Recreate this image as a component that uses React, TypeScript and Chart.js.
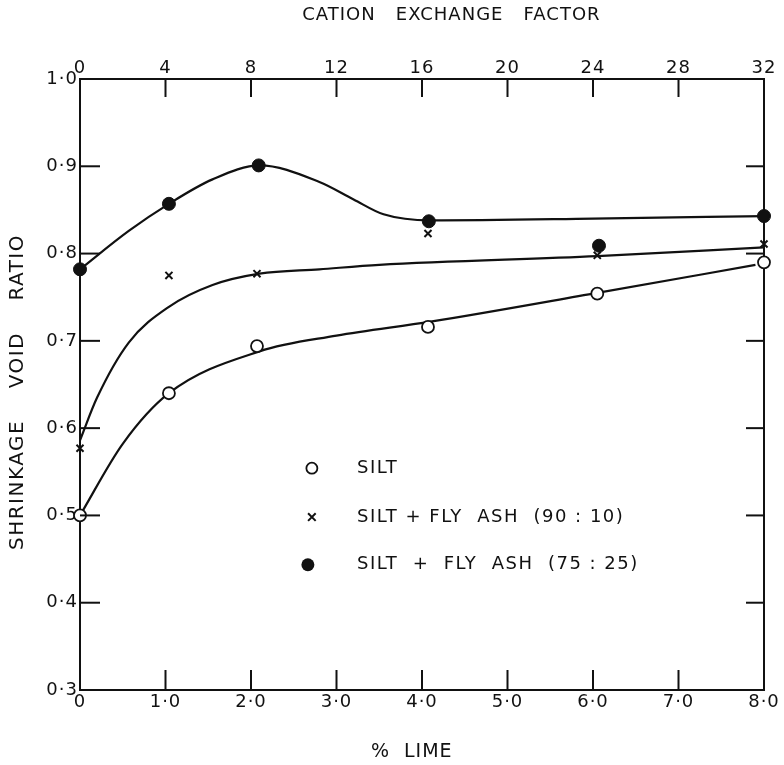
import React, { useEffect, useRef } from 'react';
import { Chart, registerables } from 'chart.js';

Chart.register(...registerables);

const FONT = "'DejaVu Sans', sans-serif";

// Axis tick labels
const LIME_TICK_LABELS = ['0', '1·0', '2·0', '3·0', '4·0', '5·0', '6·0', '7·0', '8·0'];
const CEF_TICK_LABELS = ['0', '4', '8', '12', '16', '20', '24', '28', '32'];
const RATIO_TICK_LABELS = ['0·3', '0·4', '0·5', '0·6', '0·7', '0·8', '0·9', '1·0'];

// Axis titles
const X_TITLE = '%  LIME';
const X2_TITLE = 'CATION   EXCHANGE   FACTOR';
const Y_TITLE = 'SHRINKAGE    VOID    RATIO';

// Measured points (% lime, shrinkage void ratio)
const SILT_LIME = [0, 1.04, 2.07, 4.07, 6.05, 8.0];
const SILT_RATIO = [0.5, 0.64, 0.694, 0.716, 0.754, 0.79];
const FA90_LIME = [0, 1.04, 2.07, 4.07, 6.05, 8.0];
const FA90_RATIO = [0.577, 0.775, 0.777, 0.823, 0.798, 0.811];
const FA75_LIME = [0, 1.04, 2.09, 4.08, 6.07, 8.0];
const FA75_RATIO = [0.782, 0.857, 0.901, 0.837, 0.809, 0.843];

// Hand-drawn fitted curves
const SILT_CURVE_LIME = [0, 0.5, 1.04, 2.1, 3.0, 4.1, 6.05, 7.9];
const SILT_CURVE_RATIO = [0.5, 0.582, 0.64, 0.688, 0.706, 0.722, 0.755, 0.787];
const FA90_CURVE_LIME = [0, 0.2, 0.57, 1.04, 1.55, 2.1, 2.8, 3.5, 6.05, 8.0];
const FA90_CURVE_RATIO = [0.586, 0.635, 0.698, 0.739, 0.764, 0.777, 0.782, 0.787, 0.797, 0.807];
const FA75_CURVE_LIME = [0, 0.57, 1.04, 1.55, 2.1, 2.8, 3.2, 3.55, 4.1, 6.0, 8.0];
const FA75_CURVE_RATIO = [0.782, 0.826, 0.857, 0.885, 0.901, 0.882, 0.862, 0.845, 0.838, 0.84, 0.843];

const LEGEND_LABELS = ['SILT', 'SILT + FLY  ASH  (90 : 10)', 'SILT  +  FLY  ASH  (75 : 25)'];

const INK = '#111111';

const xy = (xs: number[], ys: number[]) => xs.map((x, i) => ({ x, y: ys[i] }));

const innerTicks = {
  id: 'innerTicks',
  afterDraw(chart: any) {
    const { ctx, chartArea: a, scales } = chart;
    ctx.save();
    ctx.strokeStyle = INK;
    ctx.lineWidth = 2;
    const line = (x1: number, y1: number, x2: number, y2: number) => {
      ctx.beginPath();
      ctx.moveTo(x1, y1);
      ctx.lineTo(x2, y2);
      ctx.stroke();
    };
    const inner = (s: any, fn: (p: number) => void) => {
      s.ticks.forEach((t: any, i: number, arr: any[]) => {
        if (i === 0 || i === arr.length - 1) return;
        fn(s.getPixelForValue(t.value));
      });
    };
    inner(scales.x, (p) => line(p, a.bottom, p, a.bottom - 20));
    inner(scales.x2, (p) => line(p, a.top, p, a.top + 18));
    inner(scales.y, (p) => line(a.left, p, a.left + 20, p));
    inner(scales.y2, (p) => line(a.right, p, a.right - 18, p));
    ctx.restore();
  },
};

const titlesPlugin = {
  id: 'axisTitles',
  afterDraw(chart: any) {
    const { ctx, chartArea: a } = chart;
    const w = a.right - a.left;
    ctx.save();
    ctx.fillStyle = INK;
    ctx.textBaseline = 'middle';
    ctx.textAlign = 'center';
    ctx.font = `18px ${FONT}`;
    ctx.letterSpacing = '1px';
    ctx.fillText(X2_TITLE, a.left + w * 0.543, 15);
    ctx.font = `19px ${FONT}`;
    ctx.fillText(X_TITLE, a.left + w * 0.485, 752);
    ctx.translate(18, 392);
    ctx.rotate(-Math.PI / 2);
    ctx.font = `20px ${FONT}`;
    ctx.letterSpacing = '1.5px';
    ctx.fillText(Y_TITLE, 0, 0);
    ctx.restore();
  },
};

const legendPlugin = {
  id: 'customLegend',
  afterDraw(chart: any) {
    const { ctx, chartArea: a } = chart;
    const w = a.right - a.left;
    const h = a.bottom - a.top;
    const mx = a.left + w * 0.339;
    const tx = a.left + w * 0.405;
    const rows = [0.637, 0.717, 0.795].map((f) => a.top + h * f);
    ctx.save();
    ctx.strokeStyle = INK;
    ctx.lineWidth = 1.8;
    // open circle
    ctx.beginPath();
    ctx.arc(mx, rows[0], 5.5, 0, Math.PI * 2);
    ctx.fillStyle = '#ffffff';
    ctx.fill();
    ctx.stroke();
    // cross
    ctx.lineWidth = 2;
    const c = 3.8;
    ctx.beginPath();
    ctx.moveTo(mx - c, rows[1] - c);
    ctx.lineTo(mx + c, rows[1] + c);
    ctx.moveTo(mx + c, rows[1] - c);
    ctx.lineTo(mx - c, rows[1] + c);
    ctx.stroke();
    // filled circle
    ctx.fillStyle = INK;
    ctx.beginPath();
    ctx.arc(mx - 4, rows[2], 6.5, 0, Math.PI * 2);
    ctx.fill();
    ctx.font = `18px ${FONT}`;
    ctx.textBaseline = 'middle';
    ctx.textAlign = 'left';
    ctx.letterSpacing = '1.5px';
    LEGEND_LABELS.forEach((t, i) => ctx.fillText(t, tx, rows[i]));
    ctx.restore();
  },
};

const spacing = {
  id: 'spacing',
  beforeLayout(chart: any) {
    chart.ctx.letterSpacing = '1px';
  },
  beforeDraw(chart: any) {
    chart.ctx.letterSpacing = '1px';
  },
};

export default function App() {
  const ref = useRef<HTMLCanvasElement | null>(null);

  useEffect(() => {
    if (!ref.current) return;
    const tickFont = { family: FONT, size: 18 };
    const border = { display: true, color: INK, width: 2 };
    const chart = new Chart(ref.current, {
      type: 'scatter',
      data: {
        datasets: [
          {
            label: 'SILT',
            data: xy(SILT_LIME, SILT_RATIO),
            pointStyle: 'circle',
            pointRadius: 6,
            pointBackgroundColor: '#ffffff',
            pointBorderColor: INK,
            pointBorderWidth: 1.8,
            showLine: false,
            clip: false,
            order: 0,
          },
          {
            label: 'SILT + FLY ASH (90:10)',
            data: xy(FA90_LIME, FA90_RATIO),
            pointStyle: 'crossRot',
            pointRadius: 5,
            pointBorderColor: INK,
            pointBorderWidth: 2,
            showLine: false,
            clip: false,
            order: 0,
          },
          {
            label: 'SILT + FLY ASH (75:25)',
            data: xy(FA75_LIME, FA75_RATIO),
            pointStyle: 'circle',
            pointRadius: 6.5,
            pointBackgroundColor: INK,
            pointBorderColor: INK,
            pointBorderWidth: 1,
            showLine: false,
            clip: false,
            order: 0,
          },
          {
            label: 'silt curve',
            data: xy(SILT_CURVE_LIME, SILT_CURVE_RATIO),
            showLine: true,
            borderColor: INK,
            borderWidth: 2.2,
            pointRadius: 0,
            cubicInterpolationMode: 'monotone',
            order: 1,
          },
          {
            label: '90:10 curve',
            data: xy(FA90_CURVE_LIME, FA90_CURVE_RATIO),
            showLine: true,
            borderColor: INK,
            borderWidth: 2.2,
            pointRadius: 0,
            cubicInterpolationMode: 'monotone',
            order: 1,
          },
          {
            label: '75:25 curve',
            data: xy(FA75_CURVE_LIME, FA75_CURVE_RATIO),
            showLine: true,
            borderColor: INK,
            borderWidth: 2.2,
            pointRadius: 0,
            cubicInterpolationMode: 'monotone',
            order: 1,
          },
        ],
      },
      options: {
        animation: false,
        responsive: false,
        layout: { padding: 0 },
        plugins: {
          legend: { display: false },
          tooltip: { enabled: false },
          title: { display: false },
        },
        scales: {
          x: {
            type: 'linear',
            position: 'bottom',
            min: 0,
            max: 8,
            grid: { display: false, drawTicks: false },
            border,
            ticks: {
              stepSize: 1,
              color: INK,
              font: tickFont,
              padding: 2,
              maxRotation: 0,
              callback: (_v: any, i: number) => LIME_TICK_LABELS[i],
            },
            afterFit: (s: any) => {
              s.height = 75;
            },
          },
          x2: {
            type: 'linear',
            position: 'top',
            min: 0,
            max: 32,
            grid: { display: false, drawTicks: false },
            border,
            ticks: {
              stepSize: 4,
              color: INK,
              font: tickFont,
              padding: 0,
              maxRotation: 0,
              callback: (_v: any, i: number) => CEF_TICK_LABELS[i],
            },
            afterFit: (s: any) => {
              s.height = 79;
            },
          },
          y: {
            type: 'linear',
            position: 'left',
            min: 0.3,
            max: 1.0,
            grid: { display: false, drawTicks: false },
            border,
            ticks: {
              stepSize: 0.1,
              color: INK,
              font: tickFont,
              padding: 2,
              callback: (_v: any, i: number) => RATIO_TICK_LABELS[i],
            },
            afterFit: (s: any) => {
              s.width = 80;
            },
          },
          y2: {
            type: 'linear',
            position: 'right',
            min: 0.3,
            max: 1.0,
            grid: { display: false, drawTicks: false },
            border,
            ticks: { stepSize: 0.1, display: false },
            afterFit: (s: any) => {
              s.width = 20;
            },
          },
        },
      },
      plugins: [spacing, innerTicks, titlesPlugin, legendPlugin],
    } as any);
    return () => chart.destroy();
  }, []);

  return (
    <div style={{ position: 'absolute', left: 0, top: 0, width: 784, height: 765, background: '#ffffff' }}>
      <canvas ref={ref} width={784} height={765} style={{ display: 'block' }} />
    </div>
  );
}
